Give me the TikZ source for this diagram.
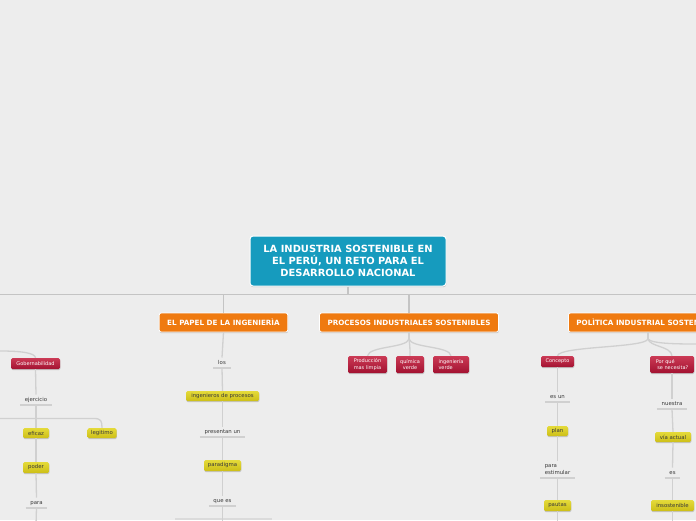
\documentclass[tikz,border=0pt]{standalone}
\usepackage{fontspec}
\setmainfont{DejaVu Sans}
\usetikzlibrary{shadows}
\definecolor{bgc}{HTML}{EDEDED}
\definecolor{tealc}{HTML}{169BBE}
\definecolor{orangec}{HTML}{EF7A10}
\definecolor{redtop}{HTML}{CB3A55}
\definecolor{redbot}{HTML}{A31231}
\definecolor{yeltop}{HTML}{E4DA3A}
\definecolor{yelbot}{HTML}{CDBF17}
\definecolor{connc}{HTML}{D0D0D0}
\definecolor{mainc}{HTML}{C4C4C4}
\definecolor{txtc}{HTML}{3A3A3A}
\newcommand{\fsm}{\fontsize{5}{6.8}\selectfont}
\newcommand{\fsl}{\fontsize{5.4}{7}\selectfont}
\begin{document}
\begin{tikzpicture}[x=1pt,y=-1pt,
  shad/.style={drop shadow={shadow xshift=0.3pt,shadow yshift=-1.2pt,opacity=.3,fill=black!60}},
  central/.style={shad,fill=tealc,draw=white,line width=1pt,rounded corners=3pt,
    minimum width=196pt,minimum height=50pt,text=white,align=center,
    font=\fontsize{9.9}{12}\selectfont\bfseries},
  topic/.style={shad,fill=orangec,draw=white,line width=0.8pt,rounded corners=2pt,
    minimum height=19pt,inner xsep=8pt,text=white,font=\fontsize{7.2}{8}\selectfont\bfseries},
  redn/.style={shad,top color=redtop,bottom color=redbot,draw=none,rounded corners=1.5pt,
    inner sep=1pt,text=white,font=\fsm},
  yel/.style={shad,top color=yeltop,bottom color=yelbot,draw=none,rounded corners=1.5pt,
    inner sep=1pt,text=txtc,font=\fsl},
  lbl/.style={inner xsep=4.5pt,inner ysep=2.5pt,text height=3.9pt,text depth=1.2pt,
    text=txtc,font=\fsl,anchor=south},
  uline/.style={draw=connc,line width=1.2pt},
  conn/.style={draw=connc,line width=1.3pt},
  mainl/.style={draw=mainc,line width=1.8pt}]
\useasboundingbox (0,0) rectangle (696,520);
\clip (0,0) rectangle (696,520);
\fill[bgc] (0,0) rectangle (696,520);

% coordinates
\coordinate (hl) at (0,294.5);
\coordinate (hr) at (696,294.5);
\coordinate (gobL) at (0,351);
\coordinate (effL) at (0,418.5);
\coordinate (gobEnd) at (36,525);
\coordinate (papEnd) at (222.5,525);
\coordinate (qL) at (175,519);
\coordinate (qR) at (272,519);
\coordinate (concEnd) at (557.5,525);
\coordinate (porqEnd) at (672.5,525);
\coordinate (polR) at (700,344);
\coordinate (procJ) at (409,339);
\coordinate (polJ) at (648,339);

% nodes
\node[central] (root) at (348,261) {LA INDUSTRIA SOSTENIBLE EN\\EL PERÚ, UN RETO PARA EL\\DESARROLLO NACIONAL};
\node[topic] (papel) at (223.5,322.5) {EL PAPEL DE LA INGENIERÌA};
\node[topic] (proc) at (409,322.5) {PROCESOS INDUSTRIALES SOSTENIBLES};
\node[topic,anchor=west] (pol) at (568,322.5) {POLÌTICA INDUSTRIAL SOSTENIBLE};

% left branch
\node[redn,minimum width=49pt,minimum height=11pt] (gob) at (35.5,363.5) {Gobernabilidad};
\node[lbl] (ejer) at (36,405) {ejercicio};
\node[yel,minimum width=26pt,minimum height=10pt] (efic) at (36,433) {eficaz};
\node[yel,minimum width=29pt,minimum height=10pt] (legit) at (102,433) {legitimo};
\node[yel,minimum width=26pt,minimum height=11pt] (poder) at (36,467.5) {poder};
\node[lbl] (para) at (36.5,508) {para};

% papel branch
\node[lbl] (los) at (222,368) {los};
\node[yel,minimum width=73pt,minimum height=10pt] (ing) at (222.5,396) {ingenieros de procesos};
\node[lbl] (pres) at (222.5,437) {presentan un};
\node[yel,minimum width=37pt,minimum height=11pt] (parad) at (222.5,465.5) {paradigma};
\node[lbl] (quees) at (222.5,506) {que es};

% procesos branch
\node[redn,minimum width=39pt,minimum height=17pt,align=left] (prod) at (367.5,364.5) {Producción\\mas limpia};
\node[redn,minimum width=28pt,minimum height=17pt,align=center] (quim) at (410,364.5) {química\\verde};
\node[redn,minimum width=36pt,minimum height=17pt,align=left] (ingv) at (451,364.5) {ingeniería\\verde};

% politica branch
\node[redn,minimum width=33pt,minimum height=11pt] (conc) at (557.5,361.5) {Concepto};
\node[redn,minimum width=44pt,minimum height=17pt,align=left] (porq) at (672,364.5) {Por qué\\\hspace{1.5pt}se necesita?};
\node[lbl] (esun) at (557.5,402) {es un};
\node[yel,minimum width=21pt,minimum height=10pt] (plan) at (557.5,431) {plan};
\node[lbl,align=left,text height=10.7pt] (paraest) at (557.5,478) {para\\estimular};
\node[yel,minimum width=27pt,minimum height=11pt] (pautas) at (557.5,505.5) {pautas};
\node[lbl] (nuestra) at (672,409) {nuestra};
\node[yel,minimum width=36pt,minimum height=10pt] (via) at (673,437) {vía actual};
\node[lbl] (es) at (672.5,478) {es};
\node[yel,minimum width=43pt,minimum height=11pt] (insost) at (672.5,505.5) {insostenible};

% underlines
\foreach \n in {ejer,para,los,pres,quees,esun,paraest,nuestra,es}
  \draw[uline] (\n.south west) -- (\n.south east);

% main connectors
\draw[mainl] (hl) -- (hr);
\draw[mainl,line width=1.4pt] (root.south) -- (root.south |- hl);
\draw[mainl,line width=1.4pt] (papel.north |- hl) -- (papel.north);
\draw[mainl,line width=1.4pt] (proc.north |- hl) -- (proc.north);
\draw[mainl,line width=1.4pt] (pol.north -| polJ) -- (pol.north -| polJ |- hl);

% left branch connectors
\draw[conn] (gobL) .. controls (22,351) and (35,353) .. (gob.north);
\draw[conn] (gob.south) -- (ejer.north);
\draw[conn] (ejer.south) -- (efic.north);
\draw[conn] (effL) -- (94,418.5) .. controls (101,418.5) and (102,421) .. (legit.north);
\draw[conn] (efic.south) -- (poder.north);
\draw[conn] (poder.south) -- (para.north);
\draw[conn] (para.south) -- (gobEnd);

% papel connectors
\draw[conn] (papel.south) -- (los.north);
\draw[conn] (los.south) -- (ing.north);
\draw[conn] (ing.south) -- (pres.north);
\draw[conn] (pres.south) -- (parad.north);
\draw[conn] (parad.south) -- (quees.north);
\draw[conn] (quees.south) -- (papEnd);
\draw[conn,draw opacity=.6] (qL) -- (qR);

% procesos connectors
\draw[conn] (proc.south) -- (procJ);
\draw[conn] (procJ) .. controls (407,348) and (369,346) .. (prod.north);
\draw[conn] (procJ) .. controls (410,346) and (410,350) .. (quim.north);
\draw[conn] (procJ) .. controls (411,348) and (450,346) .. (ingv.north);

% politica connectors
\draw[conn] (pol.south -| polJ) -- (polJ);
\draw[conn] (polJ) .. controls (645,348) and (559,346) .. (conc.north);
\draw[conn] (polJ) .. controls (650,347) and (671,346) .. (porq.north);
\draw[conn] (polJ) .. controls (652,344) and (680,344) .. (polR);
\draw[conn] (conc.south) -- (esun.north);
\draw[conn] (esun.south) -- (plan.north);
\draw[conn] (plan.south) -- (paraest.north);
\draw[conn] (paraest.south) -- (pautas.north);
\draw[conn] (pautas.south) -- (concEnd);
\draw[conn] (porq.south) -- (nuestra.north);
\draw[conn] (nuestra.south) -- (via.north);
\draw[conn] (via.south) -- (es.north);
\draw[conn] (es.south) -- (insost.north);
\draw[conn] (insost.south) -- (porqEnd);
\end{tikzpicture}
\end{document}
